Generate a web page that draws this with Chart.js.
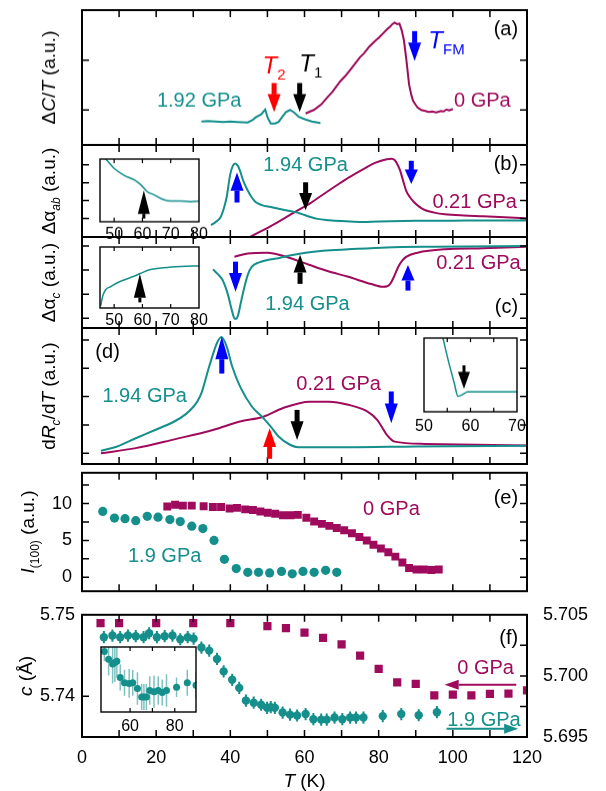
<!DOCTYPE html>
<html>
<head>
<meta charset="utf-8">
<script src="https://cdn.jsdelivr.net/npm/chart.js@4.4.1/dist/chart.umd.min.js"></script>
<style>
  html, body { margin: 0; padding: 0; background: #fff; }
  #fig { position: relative; width: 606px; height: 791px; overflow: hidden; }
  #fig canvas { position: absolute; }
</style>
</head>
<body>
<div id="fig"></div>
<script>
// ---- data ----
// (a) dC/T
const aT_192 = [32.2, 34, 36, 38, 40, 42, 44.7, 46, 46.8, 48.3, 49.4, 50.1, 50.9, 52, 53, 54, 55, 56.1, 57.2, 58.5, 60.3, 62, 64.3]
const aV_192 = [0.77, 0.78, 0.77, 0.76, 0.77, 0.76, 0.75, 0.8, 0.85, 0.91, 1.01, 0.84, 0.73, 0.73, 0.76, 0.86, 0.96, 1.0, 0.95, 0.86, 0.81, 0.77, 0.74]
const aT_0 = [60.3, 61.5, 62.5, 64.5, 66, 67.5, 69.7, 71, 72.5, 74.9, 76, 77.5, 79, 80.1, 81, 82.2, 83, 83.7, 84.3, 85, 85.6, 86.2, 86.8, 87.4, 88.2, 88.8, 89.3, 90, 90.5, 91.5, 92.6, 93.5, 94.5, 95.5, 96.8, 97.5, 98.3, 99, 100]
const aV_0 = [0.93, 0.97, 1.0, 1.11, 1.24, 1.36, 1.58, 1.68, 1.82, 2.05, 2.13, 2.27, 2.38, 2.45, 2.52, 2.61, 2.66, 2.72, 2.75, 2.72, 2.73, 2.6, 2.4, 2.05, 1.51, 1.3, 1.18, 1.1, 1.05, 1.0, 0.98, 0.96, 0.97, 0.95, 0.98, 0.97, 1.01, 0.99, 1.02]

// (b) d alpha_ab
const bT_194 = [34.8, 36, 37.4, 38.3, 39, 40, 40.7, 41.3, 42, 42.6, 43.5, 44.7, 45.7, 46.8, 48.5, 50.9, 54, 57.2, 59, 61.4, 63.5, 66.6, 70, 74.9, 80, 90, 100, 110, 120]
const bV_194 = [0.63, 0.8, 1.09, 1.6, 2.19, 3.49, 3.95, 4.07, 3.95, 3.67, 3.1, 2.56, 2.2, 1.92, 1.75, 1.64, 1.5, 1.37, 1.27, 1.1, 0.98, 0.91, 0.86, 0.81, 0.84, 0.87, 0.88, 0.89, 0.89]
const bT_021 = [43.5, 45.2, 50.9, 57.7, 61.4, 64, 68.6, 72, 75.9, 79, 82.2, 83.5, 84.3, 85.1, 85.8, 86.6, 87.4, 88.4, 89.5, 91, 92.6, 95, 97.8, 103, 108.2, 114, 120]
const bV_021 = [-0.2, -0.03, 0.575, 1.4, 1.83, 2.2, 2.84, 3.3, 3.76, 4.1, 4.31, 4.33, 4.26, 4.0, 3.67, 3.1, 2.56, 2.2, 1.92, 1.65, 1.46, 1.33, 1.24, 1.17, 1.13, 1.07, 1.0]

// (c) d alpha_c
const cT_194 = [35.3, 36.5, 37.9, 38.8, 39.5, 40.3, 41.1, 41.6, 42.1, 42.9, 43.7, 44.7, 45.8, 47.8, 50, 53, 56, 60.3, 65, 71.8, 82.2, 95, 120]
const cV_194 = [3.03, 2.85, 2.59, 2.25, 1.9, 1.4, 1.0, 0.98, 1.14, 1.7, 2.24, 2.8, 3.14, 3.32, 3.42, 3.49, 3.6, 3.72, 3.8, 3.86, 3.94, 3.97, 4.0]
const cT_021 = [41.1, 44.7, 49.9, 52, 55.1, 61.4, 66, 71.8, 78, 81.2, 82.3, 83.2, 84.2, 85.3, 86.4, 87.4, 90.5, 97.8, 108.2, 120]
const cV_021 = [3.55, 3.69, 3.72, 3.68, 3.55, 3.21, 2.97, 2.72, 2.42, 2.31, 2.33, 2.45, 2.75, 3.14, 3.4, 3.55, 3.72, 3.86, 3.9, 3.97]

// (d) dRc/dT
const dT_194 = [5.1, 9.3, 14.5, 19.7, 24.9, 28, 30.1, 31.2, 32.2, 34.3, 36.4, 37.6, 39.0, 40.5, 42.6, 45.8, 48.9, 50.9, 53, 56.2, 58.3, 65, 71.8, 90, 120]
const dV_194 = [0.09, 0.23, 0.53, 0.82, 1.12, 1.38, 1.65, 1.85, 2.12, 3.06, 3.89, 4.1, 3.77, 3.06, 2.36, 1.65, 1.24, 0.94, 0.59, 0.29, 0.21, 0.21, 0.21, 0.24, 0.26]
const dT_021 = [5.1, 14.5, 24.9, 35.3, 42.6, 48.9, 54.1, 61.4, 66.6, 71.8, 77, 79.6, 82.2, 84.3, 92.6, 120]
const dV_021 = [0, 0.18, 0.49, 0.82, 1.12, 1.29, 1.59, 1.82, 1.82, 1.71, 1.47, 1.18, 0.65, 0.41, 0.33, 0.27]

// (e) I(100)
const eT_19 = [5.6, 8.75, 11.6, 14.5, 17.6, 20.5, 23.7, 26.5, 29.6, 32.6, 35.6, 38.4, 41.6, 44.7, 47.6, 50.6, 53.8, 56.7, 59.6, 62.6, 65.7, 68.7]
const eV_19 = [8.93, 8.03, 7.95, 7.67, 8.26, 8.15, 7.83, 7.56, 6.93, 6.61, 5.0, 2.44, 1.18, 0.67, 0.67, 0.59, 0.79, 0.47, 0.79, 0.67, 0.94, 0.67]
const eT_0 = [23.0, 25.1, 27.2, 29.6, 32.8, 35.3, 37.5, 39.8, 41.8, 44.0, 46.1, 48.1, 50.1, 52.1, 54.2, 56.2, 58.2, 60.5, 62.6, 64.7, 66.7, 68.7, 70.7, 72.8, 74.8, 76.8, 78.6, 80.6, 82.6, 84.5, 86.4, 88.2, 90.2, 92.2, 94.2, 96.2]
const eV_0 = [9.6, 9.84, 9.72, 9.72, 9.64, 9.52, 9.52, 9.33, 9.41, 9.21, 9.13, 8.93, 8.74, 8.62, 8.42, 8.42, 8.46, 8.07, 7.56, 7.24, 6.97, 6.69, 6.38, 5.98, 5.47, 4.99, 4.40, 3.9, 3.4, 2.8, 2.0, 1.25, 1.06, 1.06, 0.98, 1.06]

// (f) c lattice parameter
const fT_0 = [5, 10, 20, 30, 40, 50, 55, 60, 65, 70, 75, 80, 85, 90, 95, 100, 105, 110, 115, 120]
const fC_0 = [5.74898, 5.74898, 5.74898, 5.74898, 5.74898, 5.74862, 5.74836, 5.74782, 5.74716, 5.74636, 5.74498, 5.74335, 5.74171, 5.74153, 5.74011, 5.74019, 5.74011, 5.7403, 5.74033, 5.74073]
const fT_19 = [5.9, 8.2, 10.3, 12.4, 14.5, 16.6, 18.1, 20.2, 22.3, 24.4, 26.5, 28.5, 30.1, 32.2, 34.3, 36.4, 38.2, 40.5, 42.4, 44.2, 46.3, 48.3, 49.9, 50.9, 52, 54.1, 56.1, 58, 60.3, 62.4, 64.5, 66, 68.1, 70.2, 72.3, 73.9, 75.9, 81.1, 86.1, 90.8, 95.7]
const fC_19 = [5.70317, 5.7033, 5.70317, 5.7033, 5.70325, 5.70317, 5.70349, 5.70317, 5.70325, 5.7033, 5.703, 5.70317, 5.70305, 5.70232, 5.70207, 5.70139, 5.70037, 5.69968, 5.69902, 5.69798, 5.69781, 5.69764, 5.69739, 5.69744, 5.69739, 5.697, 5.69683, 5.69676, 5.69688, 5.69646, 5.69642, 5.69642, 5.69659, 5.69646, 5.69659, 5.69659, 5.69659, 5.69671, 5.69688, 5.69678, 5.69703]
const fErr_19 = 0.0005

// insets
const ibT = [45.5, 47, 50, 53.5, 57, 59.4, 61.7, 64.1, 67.6, 70, 73.5, 77, 80]
const ibV = [1.05, 1.0, 0.85, 0.74, 0.67, 0.59, 0.48, 0.43, 0.35, 0.33, 0.33, 0.32, 0.33]
const icT = [45.2, 46, 47, 48.8, 51, 53.5, 57, 59.4, 62.9, 67.6, 73.5, 80]
const icV = [0.03, 0.2, 0.3, 0.35, 0.41, 0.46, 0.52, 0.57, 0.63, 0.66, 0.68, 0.69]
const idT = [54, 55.2, 56.5, 57.3, 58.2, 59.4, 62.7, 70]
const idV = [1.02, 0.70, 0.39, 0.21, 0.23, 0.27, 0.27, 0.27]
const ifT = [48.5, 50.4, 52.2, 53.2, 54.1, 55.6, 57.5, 59.6, 61.2, 63.3, 65.2, 66.2, 67.3, 68.8, 70.7, 72.6, 74.4, 76.3, 80.8, 85.6, 89.5]
const ifV = [0.93, 0.81, 0.74, 0.76, 0.78, 0.53, 0.45, 0.44, 0.45, 0.36, 0.23, 0.23, 0.23, 0.33, 0.31, 0.33, 0.30, 0.33, 0.38, 0.45, 0.41]
const ifE = [0.15, 0.25, 0.3, 0.3, 0.25, 0.2, 0.2, 0.22, 0.2, 0.25, 0.2, 0.2, 0.2, 0.22, 0.25, 0.22, 0.2, 0.25, 0.15, 0.2, 0.2]

// ---- look ----
const TEAL = "#148f8c"
const TEAL_LIGHT = "rgba(20,143,140,0.55)"
const MAG = "#9e0b5c"
const FONT = '"Liberation Sans", Arial, sans-serif'
const PLOT_L = 82
const PLOT_R = 527
const MAIN_XT = [10, 20, 30, 40, 50, 60, 70, 80, 90, 100, 110]
const LABEL = 20   // curve labels and panel letters
const TSIZE = 24   // T2, T1, TFM

Chart.defaults.font.family = FONT
Chart.defaults.color = "#000"

const pts = (xs, ys) => xs.map((x, i) => ({x, y: ys[i]}))

function curve(xs, ys, color, extra) {
  return Object.assign({
    data: pts(xs, ys), showLine: true, borderColor: color, borderWidth: 2,
    pointRadius: 0, clip: 0, cubicInterpolationMode: "monotone",
  }, extra || {})
}

function markers(xs, ys, color, style, radius, extra) {
  return Object.assign({
    data: pts(xs, ys), showLine: false, pointStyle: style, pointRadius: radius,
    backgroundColor: color, borderColor: color, borderWidth: 0, clip: 0,
  }, extra || {})
}

// text with italic / subscript pieces
function drawRich(ctx, segs, x, y, size, color, align) {
  const parts = segs.map(s => {
    const fs = s.sub ? Math.round(size * 0.64) : size
    const font = (s.i ? "italic " : "") + fs + "px " + FONT
    ctx.font = font
    return {t: s.t, font, w: ctx.measureText(s.t).width, dy: s.sub ? size * 0.33 : 0}
  })
  const total = parts.reduce((a, p) => a + p.w, 0)
  let cx = align === "center" ? x - total / 2 : align === "right" ? x - total : x
  ctx.fillStyle = color
  ctx.textBaseline = "middle"
  ctx.textAlign = "left"
  parts.forEach(p => { ctx.font = p.font; ctx.fillText(p.t, cx, y + p.dy); cx += p.w })
}

function arrowV(ctx, x, y0, y1, color, hw, sw, hf) {
  const dir = Math.sign(y1 - y0)
  const len = Math.abs(y1 - y0)
  const yb = y1 - dir * len * hf
  ctx.fillStyle = color
  ctx.fillRect(x - sw / 2, Math.min(y0, yb), sw, Math.abs(yb - y0) + 0.5)
  ctx.beginPath()
  ctx.moveTo(x - hw / 2, yb)
  ctx.lineTo(x + hw / 2, yb)
  ctx.lineTo(x, y1)
  ctx.closePath()
  ctx.fill()
}

function arrowH(ctx, x0, x1, y, color) {
  const dir = Math.sign(x1 - x0)
  const xb = x1 - dir * 14
  ctx.strokeStyle = color
  ctx.lineWidth = 2
  ctx.beginPath(); ctx.moveTo(x0, y); ctx.lineTo(xb, y); ctx.stroke()
  ctx.fillStyle = color
  ctx.beginPath(); ctx.moveTo(xb, y - 5); ctx.lineTo(xb, y + 5); ctx.lineTo(x1, y); ctx.closePath(); ctx.fill()
}

// box, inward ticks, error bars
const framePlugin = {
  id: "frame",
  beforeDraw(chart, args, o) {
    if (!o.fill) return
    const a = chart.chartArea
    chart.ctx.save()
    chart.ctx.fillStyle = "#fff"
    chart.ctx.fillRect(a.left, a.top, a.width, a.height)
    chart.ctx.restore()
  },
  beforeDatasetsDraw(chart) {
    const {ctx, chartArea: a} = chart
    ctx.save()
    ctx.beginPath(); ctx.rect(a.left, a.top, a.width, a.height); ctx.clip()
    chart.data.datasets.forEach(ds => {
      if (ds.errorBars === undefined) return
      const xs = chart.scales.x, ys = chart.scales[ds.yAxisID || "y"]
      ctx.strokeStyle = ds.errorColor
      ctx.lineWidth = ds.errorWidth || 1.5
      ctx.beginPath()
      ds.data.forEach((p, i) => {
        const e = Array.isArray(ds.errorBars) ? ds.errorBars[i] : ds.errorBars
        const x = xs.getPixelForValue(p.x)
        ctx.moveTo(x, ys.getPixelForValue(p.y - e))
        ctx.lineTo(x, ys.getPixelForValue(p.y + e))
      })
      ctx.stroke()
    })
    ctx.restore()
  },
  afterDatasetsDraw(chart, args, o) {
    const {ctx, chartArea: a, scales} = chart
    const tl = o.tl || 7
    ctx.save()
    ctx.strokeStyle = "#000"
    ctx.lineWidth = o.tw || 1.5
    ctx.beginPath()
    ;(o.xt || []).forEach(v => {
      const x = scales.x.getPixelForValue(v)
      ctx.moveTo(x, a.top); ctx.lineTo(x, a.top + tl)
      ctx.moveTo(x, a.bottom); ctx.lineTo(x, a.bottom - tl)
    })
    ;(o.yt || []).forEach(([id, side, vals]) => {
      vals.forEach(v => {
        const y = scales[id].getPixelForValue(v)
        if (side !== "right") { ctx.moveTo(a.left, y); ctx.lineTo(a.left + tl, y) }
        if (side !== "left") { ctx.moveTo(a.right, y); ctx.lineTo(a.right - tl, y) }
      })
    })
    ctx.stroke()
    ctx.lineWidth = o.lw || 2
    ctx.strokeRect(a.left, a.top, a.width, a.height)
    ctx.restore()
  },
}

// labels, arrows and axis titles
const notesPlugin = {
  id: "notes",
  afterDraw(chart, args, o) {
    const {ctx, chartArea: a, scales} = chart
    ctx.save()
    ;(o.arrows || []).forEach(r => {
      const ys = scales[r.ys || "y"]
      arrowV(ctx, scales.x.getPixelForValue(r.x), ys.getPixelForValue(r.from), ys.getPixelForValue(r.to),
        r.color, r.hw || 13, r.sw || 5, r.hf || 0.62)
    })
    ;(o.hArrows || []).forEach(r => {
      const ys = scales[r.ys || "y"]
      arrowH(ctx, scales.x.getPixelForValue(r.from), scales.x.getPixelForValue(r.to), ys.getPixelForValue(r.y), r.color)
    })
    ;(o.texts || []).forEach(t => {
      const ys = scales[t.ys || "y"]
      drawRich(ctx, t.segs, scales.x.getPixelForValue(t.x), ys.getPixelForValue(t.y),
        t.size || LABEL, t.color || "#000", t.align || "left")
    })
    if (o.yTitle) {
      ctx.save()
      ctx.translate(a.left - o.yTitle.dx, (a.top + a.bottom) / 2 + (o.yTitle.dy || 0))
      ctx.rotate(-Math.PI / 2)
      drawRich(ctx, o.yTitle.segs, 0, 0, o.yTitle.size || 19, "#000", "center")
      ctx.restore()
    }
    if (o.xTitle) {
      drawRich(ctx, o.xTitle.segs, (a.left + a.right) / 2, a.bottom + o.xTitle.dy, 19, "#000", "center")
    }
    ctx.restore()
  },
}

function addCanvas(left, top, w, h) {
  const c = document.createElement("canvas")
  c.width = w; c.height = h
  c.style.left = left + "px"; c.style.top = top + "px"
  c.style.width = w + "px"; c.style.height = h + "px"
  document.getElementById("fig").appendChild(c)
  return c
}

function yScale(o, side, width) {
  const s = {
    type: "linear", position: side, min: o.min, max: o.max,
    grid: {display: false, drawTicks: false}, border: {display: false},
    afterFit: sc => { sc.width = width },
  }
  if (o.labels) {
    s.ticks = {font: {size: 18}, padding: o.padding, autoSkip: false, callback: o.format || (v => v)}
    s.afterBuildTicks = sc => { sc.ticks = o.labels.map(v => ({value: v})) }
  } else {
    s.ticks = {display: false}
  }
  return s
}

function mainPanel(o) {
  const pad = 12
  const below = o.xAxis ? 54 : pad
  const cv = addCanvas(0, o.top - pad, 606, o.bottom - o.top + pad + below)
  const scales = {
    x: o.xAxis ? {
      type: "linear", min: 0, max: 120,
      grid: {display: false, drawTicks: false}, border: {display: false},
      ticks: {stepSize: 20, padding: 10, font: {size: 18}, maxRotation: 0, autoSkip: false},
      afterFit: s => { s.height = below },
    } : {type: "linear", min: 0, max: 120, display: false},
    y: yScale(o.y, "left", PLOT_L),
  }
  if (o.y2) scales.y2 = yScale(o.y2, "right", 606 - PLOT_R)
  return new Chart(cv, {
    type: "scatter",
    data: {datasets: o.datasets},
    options: {
      responsive: false, animation: false, devicePixelRatio: 1,
      layout: {padding: {top: pad, bottom: o.xAxis ? 0 : pad, left: 0, right: o.y2 ? 0 : 606 - PLOT_R}},
      scales,
      plugins: {legend: {display: false}, tooltip: {enabled: false}, frame: o.frame, notes: o.notes},
    },
    plugins: [framePlugin, notesPlugin],
  })
}

function insetPanel(o) {
  const pl = 14, pr = 14, pt = 2, pb = 24
  const cv = addCanvas(o.left - pl, o.top - pt, o.w + pl + pr, o.h + pt + pb)
  return new Chart(cv, {
    type: "scatter",
    data: {datasets: o.datasets},
    options: {
      responsive: false, animation: false, devicePixelRatio: 1,
      layout: {padding: {left: pl, right: pr, top: pt, bottom: 0}},
      scales: {
        x: {
          type: "linear", min: o.xmin, max: o.xmax,
          grid: {display: false, drawTicks: false}, border: {display: false},
          ticks: {font: {size: 16}, padding: o.labelPad || 3, autoSkip: false, maxRotation: 0},
          afterBuildTicks: s => { s.ticks = o.xlabels.map(v => ({value: v})) },
          afterFit: s => { s.height = pb },
        },
        y: {type: "linear", min: 0, max: 1, display: false},
      },
      plugins: {
        legend: {display: false}, tooltip: {enabled: false},
        frame: {fill: true, xt: o.xt, lw: 1.4, tw: 1.2, tl: 4},
        notes: {arrows: o.arrows || []},
      },
    },
    plugins: [framePlugin, notesPlugin],
  })
}

const aU = [{t: " (a.u.)"}]

// (a)
mainPanel({
  top: 10, bottom: 144.5,
  y: {min: 0.3, max: 3.0},
  datasets: [
    curve(aT_192, aV_192, TEAL, {cubicInterpolationMode: "default", tension: 0}),
    curve(aT_0, aV_0, MAG, {cubicInterpolationMode: "default", tension: 0}),
  ],
  frame: {xt: MAIN_XT, yt: [["y", "both", [1, 2]]]},
  notes: {
    arrows: [
      {x: 51.8, from: 1.54, to: 0.96, color: "#ff0000"},
      {x: 58.7, from: 1.54, to: 0.96, color: "#000"},
      {x: 89.7, from: 2.58, to: 1.98, color: "#0000ff"},
    ],
    texts: [
      {x: 20.2, y: 1.18, segs: [{t: "1.92 GPa"}], color: TEAL},
      {x: 100.3, y: 1.18, segs: [{t: "0 GPa"}], color: MAG},
      {x: 48.7, y: 1.86, segs: [{t: "T", i: 1}, {t: "2", sub: 1}], color: "#ff0000", size: TSIZE},
      {x: 58.6, y: 1.9, segs: [{t: "T", i: 1}, {t: "1", sub: 1}], color: "#000", size: TSIZE},
      {x: 93.4, y: 2.36, segs: [{t: "T", i: 1}, {t: "FM", sub: 1}], color: "#0000ff", size: TSIZE},
      {x: 117.6, y: 2.6, segs: [{t: "(a)"}], align: "right"},
    ],
    yTitle: {dx: 32, segs: [{t: "Δ"}, {t: "C", i: 1}, {t: "/"}, {t: "T", i: 1}, ...aU]},
  },
})

// (b)
mainPanel({
  top: 144.5, bottom: 237,
  y: {min: -0.03, max: 5.1},
  datasets: [curve(bT_194, bV_194, TEAL), curve(bT_021, bV_021, MAG)],
  frame: {xt: MAIN_XT, yt: [["y", "both", [1, 2, 3, 4]]]},
  notes: {
    arrows: [
      {x: 41.8, from: 1.92, to: 3.57, color: "#0000ff"},
      {x: 60.3, from: 3.02, to: 1.46, color: "#000"},
      {x: 88.8, from: 4.22, to: 2.93, color: "#0000ff"},
    ],
    texts: [
      {x: 48.9, y: 3.94, segs: [{t: "1.94 GPa"}], color: TEAL},
      {x: 94.5, y: 1.92, segs: [{t: "0.21 GPa"}], color: MAG},
      {x: 117.6, y: 4.0, segs: [{t: "(b)"}], align: "right"},
    ],
    yTitle: {dx: 32, segs: [{t: "Δα"}, {t: "ab", i: 1, sub: 1}, ...aU]},
  },
})

// (c)
mainPanel({
  top: 237, bottom: 328,
  y: {min: 0.6, max: 4.37},
  datasets: [curve(cT_194, cV_194, TEAL), curve(cT_021, cV_021, MAG)],
  frame: {xt: MAIN_XT, yt: [["y", "both", [1, 2, 3, 4]]]},
  notes: {
    arrows: [
      {x: 41.4, from: 3.35, to: 2.10, color: "#0000ff"},
      {x: 58.8, from: 2.45, to: 3.63, color: "#000"},
      {x: 87.9, from: 2.17, to: 3.21, color: "#0000ff"},
    ],
    texts: [
      {x: 95.5, y: 3.29, segs: [{t: "0.21 GPa"}], color: MAG},
      {x: 49.4, y: 1.59, segs: [{t: "1.94 GPa"}], color: TEAL},
      {x: 117.6, y: 1.43, segs: [{t: "(c)"}], align: "right"},
    ],
    yTitle: {dx: 32, segs: [{t: "Δα"}, {t: "c", i: 1, sub: 1}, ...aU]},
  },
})

// (d)
mainPanel({
  top: 328, bottom: 464,
  y: {min: -0.38, max: 4.42},
  datasets: [curve(dT_194, dV_194, TEAL), curve(dT_021, dV_021, MAG)],
  frame: {xt: MAIN_XT, yt: [["y", "both", [0, 1, 2, 3, 4]]]},
  notes: {
    arrows: [
      {x: 37.7, from: 2.83, to: 4.12, color: "#0000ff"},
      {x: 50.6, from: -0.18, to: 0.88, color: "#ff0000"},
      {x: 58.0, from: 1.53, to: 0.47, color: "#000"},
      {x: 83.4, from: 2.18, to: 1.06, color: "#0000ff"},
    ],
    texts: [
      {x: 3.6, y: 3.54, segs: [{t: "(d)"}]},
      {x: 5.5, y: 2.0, segs: [{t: "1.94 GPa"}], color: TEAL},
      {x: 57.8, y: 2.41, segs: [{t: "0.21 GPa"}], color: MAG},
    ],
    yTitle: {dx: 32, segs: [{t: "d"}, {t: "R", i: 1}, {t: "c", i: 1, sub: 1}, {t: "/d"}, {t: "T", i: 1}, ...aU]},
  },
})

// (e)
mainPanel({
  top: 464, bottom: 600,
  y: {min: -1.89, max: 14.17, labels: [0, 5, 10], padding: 10},
  datasets: [
    markers(eT_0, eV_0, MAG, "rect", 5.6),
    markers(eT_19, eV_19, TEAL, "circle", 4.6),
  ],
  frame: {xt: MAIN_XT, yt: [["y", "both", [0, 2.5, 5, 7.5, 10, 12.5]]]},
  notes: {
    texts: [
      {x: 75.8, y: 9.13, segs: [{t: "0 GPa"}], color: MAG},
      {x: 12.4, y: 2.83, segs: [{t: "1.9 GPa"}], color: TEAL},
      {x: 117.6, y: 10.74, segs: [{t: "(e)"}], align: "right"},
    ],
    yTitle: {dx: 53, segs: [{t: "I", i: 1}, {t: "(100)", sub: 1}, ...aU]},
  },
})

// (f)
mainPanel({
  top: 600, bottom: 737, xAxis: true,
  y: {min: 5.735, max: 5.75, labels: [5.74, 5.75], padding: 7, format: v => v.toFixed(2)},
  y2: {min: 5.695, max: 5.705, labels: [5.695, 5.7, 5.705], padding: 16, format: v => v.toFixed(3)},
  datasets: [
    markers(fT_0, fC_0, MAG, "rect", 5.8),
    markers(fT_19, fC_19, TEAL, "circle", 4.2, {yAxisID: "y2", errorBars: fErr_19, errorColor: TEAL, errorWidth: 2}),
  ],
  frame: {xt: MAIN_XT, yt: [["y", "left", [5.74]], ["y2", "right", [5.6975, 5.7, 5.7025]]]},
  notes: {
    hArrows: [
      {ys: "y2", y: 5.69927, from: 117.1, to: 97.8, color: MAG},
      {ys: "y2", y: 5.69567, from: 98.3, to: 117.6, color: TEAL},
    ],
    texts: [
      {ys: "y2", x: 117.6, y: 5.7031, segs: [{t: "(f)"}], align: "right"},
      {ys: "y2", x: 101.2, y: 5.70061, segs: [{t: "0 GPa"}], color: MAG},
      {ys: "y2", x: 98.5, y: 5.69635, segs: [{t: "1.9 GPa"}], color: TEAL},
    ],
    yTitle: {dx: 55, segs: [{t: "c", i: 1}, {t: " (Å)"}]},
    xTitle: {dy: 45, segs: [{t: "T", i: 1}, {t: " (K)"}]},
  },
})

// insets
insetPanel({
  left: 99.5, top: 159, w: 99.5, h: 62.7, xmin: 45, xmax: 80, xlabels: [50, 60, 70, 80], xt: [50, 60, 70],
  datasets: [curve(ibT, ibV, TEAL, {borderWidth: 1.5})],
  arrows: [{x: 60.5, from: 0.06, to: 0.5, color: "#000", hw: 12, sw: 3, hf: 0.85}],
})
insetPanel({
  left: 99.5, top: 247.3, w: 99.5, h: 61, xmin: 45, xmax: 80, xlabels: [50, 60, 70, 80], xt: [50, 60, 70],
  datasets: [curve(icT, icV, TEAL, {borderWidth: 1.5})],
  arrows: [{x: 59.1, from: 0.1, to: 0.56, color: "#000", hw: 12, sw: 3, hf: 0.85}],
})
insetPanel({
  left: 424, top: 338.3, w: 93.2, h: 73.4, xmin: 50, xmax: 70, xlabels: [50, 60, 70], xt: [55, 60, 65], labelPad: 5,
  datasets: [curve(idT, idV, TEAL, {borderWidth: 1.5})],
  arrows: [{x: 58.6, from: 0.63, to: 0.31, color: "#000", hw: 12, sw: 3, hf: 0.72}],
})
insetPanel({
  left: 100.7, top: 645, w: 95.7, h: 67.3, xmin: 47, xmax: 89.5, xlabels: [60, 80], xt: [60, 70, 80], labelPad: 5,
  datasets: [markers(ifT, ifV, TEAL, "circle", 3.5, {errorBars: ifE, errorColor: TEAL_LIGHT, errorWidth: 1.5})],
})
</script>
</body>
</html>
